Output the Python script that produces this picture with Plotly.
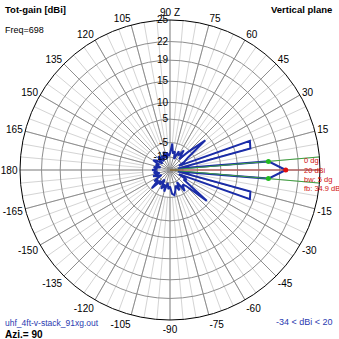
import numpy as np
import plotly.graph_objects as go

# ---- data ----
elev_deg = [-180, -175, -170, -165, -160, -155, -150, -145, -140, -135, -130, -125,
            -120, -115, -110, -105, -100, -95, -90, -85, -80, -75, -70, -65,
            -60, -55, -50, -45, -40, -35, -30, -25, -20, -15, -10, -5,
            0, 5, 10, 15, 20, 25, 30, 35, 40, 45, 50, 55,
            60, 65, 70, 75, 80, 85, 90, 95, 100, 105, 110, 115,
            120, 125, 130, 135, 140, 145, 150, 155, 160, 165, 170, 175, 180]
gain_dbi = [-11, -15, -12, -17, -11, -14, -18, -10, -13, -6, -14, -11,
            -17, -9, -13, -8, -15, -10, -12, -7, -6, -9, -12, -8,
            -14, -6, -10, -8, 4, -12, -10, -18, 14.2, 13.8, -20, 17,
            20, 17, -20, 13.8, 14.2, -18, -12, -8, 3.3, -6, -14, -7,
            -12, -9, -16, -10, -12, -5.5, -12, -14, -11, -16, -10, -15,
            -12, -17, -11, -13, -18, -12, -10, -16, -13, -18, -12, -15, -11]
ring_dbi = [25, 22, 19, 15, 10, 5, -5, -15]
peak_deg, peak_dbi = 0, 20
half_power_deg = [5, -5]
half_power_dbi = [17, 17]
angle_tick_deg = list(range(0, 360, 15))
minor_tick_deg = list(range(0, 360, 5))
info_lines = ["0 dg", "20 dBi", "bw: 5 dg", "fb: 34.9 dB"]


def to_r(db):
    """4nec2-style log radial scale (outer ring = 25 dBi)."""
    return np.maximum(160.6 * np.exp(0.048 * (np.asarray(db, float) - 25)) - 10.6, 0)


def angle_label(a):
    if a == 0:
        return ""
    if a == 90:
        return "90 Z"
    return str(a if a <= 180 else a - 360)


R_MAX = float(to_r(25))
FONT = "Arial, Liberation Sans, sans-serif"

fig = go.Figure()

# minor grid subplot (needs a trace to be drawn)
fig.add_trace(go.Scatterpolar(r=[], theta=[], subplot="polar", showlegend=False))

# pattern
fig.add_trace(go.Scatterpolar(
    r=to_r(gain_dbi), theta=elev_deg, mode="lines", subplot="polar2",
    line=dict(color="#1a2ca8", width=2), showlegend=False))

# half-power lines and marker dots
for a in half_power_deg:
    fig.add_trace(go.Scatterpolar(r=[0, R_MAX], theta=[a, a], mode="lines", subplot="polar2",
                                  line=dict(color="#3fa03f", width=1), showlegend=False))
fig.add_trace(go.Scatterpolar(r=[0, R_MAX], theta=[peak_deg, peak_deg], mode="lines",
                              subplot="polar2", line=dict(color="#c04848", width=1),
                              showlegend=False))
fig.add_trace(go.Scatterpolar(r=to_r(half_power_dbi), theta=half_power_deg, mode="markers",
                              subplot="polar2", marker=dict(color="#22bb22", size=5),
                              showlegend=False))
fig.add_trace(go.Scatterpolar(r=to_r([peak_dbi]), theta=[peak_deg], mode="markers",
                              subplot="polar2", marker=dict(color="#e01010", size=5),
                              showlegend=False))

dom = dict(x=[20 / 339, 320 / 339], y=[19 / 339, 319 / 339])

fig.update_layout(
    width=339, height=339, autosize=False,
    margin=dict(l=0, r=0, t=0, b=0),
    paper_bgcolor="white",
    font=dict(family=FONT, size=10, color="black"),
    polar=dict(
        domain=dom, bgcolor="white", hole=float(to_r(-5)) / R_MAX,
        angularaxis=dict(rotation=0, direction="counterclockwise", tickmode="array",
                         tickvals=minor_tick_deg, showticklabels=False, ticks="",
                         gridcolor="#d4d4d4", gridwidth=1, showline=False),
        radialaxis=dict(range=[0, R_MAX], visible=False, showgrid=False),
    ),
    polar2=dict(
        domain=dom, bgcolor="rgba(0,0,0,0)",
        angularaxis=dict(rotation=0, direction="counterclockwise", tickmode="array",
                         tickvals=angle_tick_deg,
                         ticktext=[angle_label(a) for a in angle_tick_deg],
                         ticks="", gridcolor="#8e8e8e", gridwidth=1,
                         showline=True, linecolor="black", linewidth=1,
                         tickfont=dict(size=10, color="black")),
        radialaxis=dict(range=[0, R_MAX], angle=90, tickangle=90, side="counterclockwise",
                        tickmode="array", tickvals=list(to_r(ring_dbi)),
                        ticktext=[str(v) for v in ring_dbi], ticks="",
                        showline=False, gridcolor="#8e8e8e", gridwidth=1,
                        tickfont=dict(size=10, color="black")),
    ),
)


def txt(x, y, s, color="black", size=10, bold=False, anchor="left"):
    fig.add_annotation(x=x / 339, y=1 - y / 339, xref="paper", yref="paper",
                       text=f"<b>{s}</b>" if bold else s, showarrow=False,
                       xanchor=anchor, yanchor="middle",
                       font=dict(family=FONT, size=size, color=color))


txt(3, 9, "Tot-gain [dBi]", bold=True, size=9.5)
txt(3, 30, "Freq=698", size=9)
txt(334, 9, "Vertical plane", bold=True, anchor="right", size=9.5)
txt(3, 323, "uhf_4ft-v-stack_91xg.out", color="#2a3ab0", size=8.5)
txt(3, 334, "Azi.= 90", bold=True, size=10)
txt(335, 322, "-34 &lt; dBi &lt; 20", color="#2a3ab0", size=9, anchor="right")
for i, s in enumerate(info_lines):
    txt(302, 161 + 9 * i, s, color="#d01010", size=7.5)

fig.write_html("out.html")
